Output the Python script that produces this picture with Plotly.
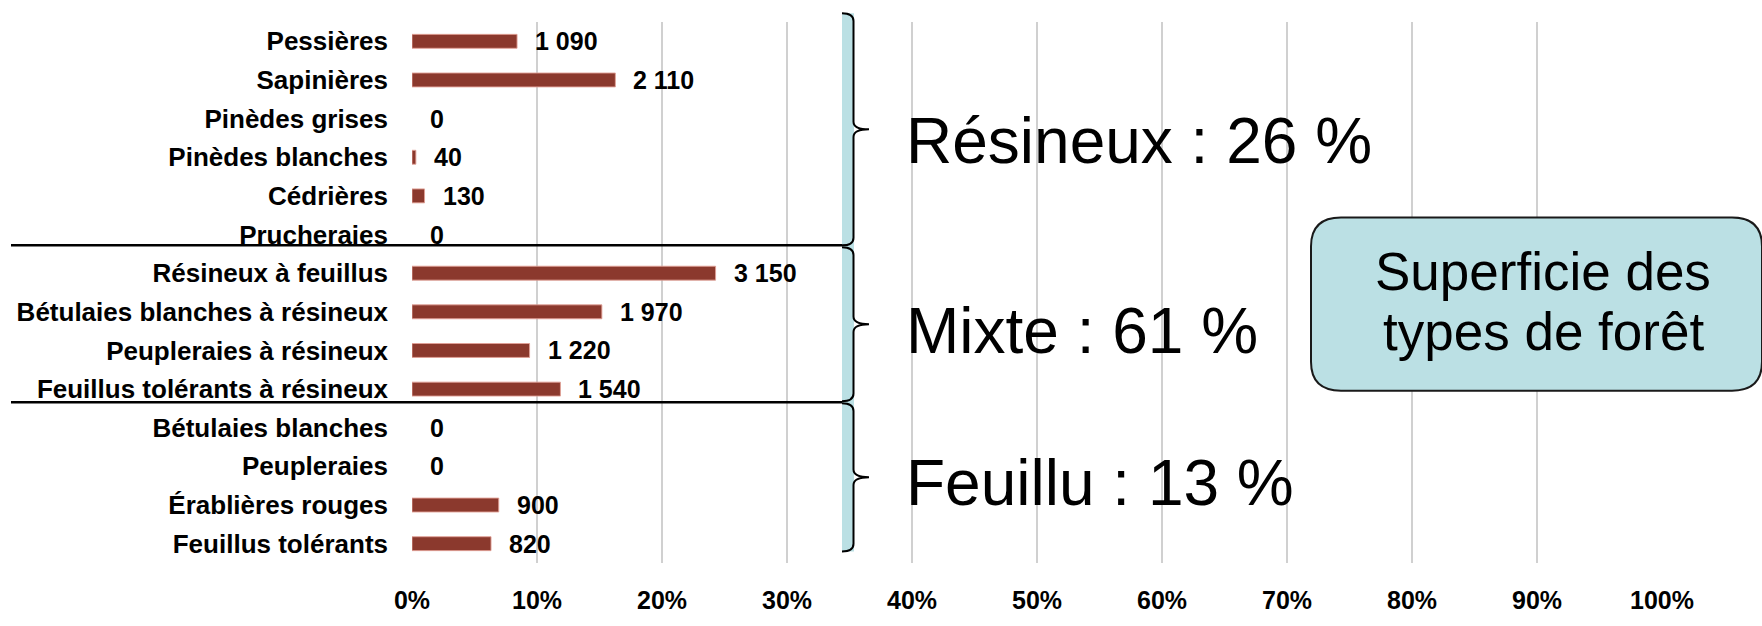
import plotly.graph_objects as go

# ---------------- data ----------------
categories = [
    "Pessières", "Sapinières", "Pinèdes grises", "Pinèdes blanches", "Cédrières", "Prucheraies",
    "Résineux à feuillus", "Bétulaies blanches à résineux", "Peupleraies à résineux",
    "Feuillus tolérants à résineux",
    "Bétulaies blanches", "Peupleraies", "Érablières rouges", "Feuillus tolérants",
]
values = [1090, 2110, 0, 40, 130, 0, 3150, 1970, 1220, 1540, 0, 0, 900, 820]
groups = ["Résineux"] * 6 + ["Mixte"] * 4 + ["Feuillu"] * 4
group_names = ["Résineux", "Mixte", "Feuillu"]
box_lines = ["Superficie des", "types de forêt"]
x_ticks = [i / 10 for i in range(11)]

total = sum(values)
shares = [v / total for v in values]
group_pct = {g: round(100 * sum(v for v, gg in zip(values, groups) if gg == g) / total) for g in group_names}


def fmt(v):
    return f"{v:,}".replace(",", " ")


# ---------------- layout geometry (pixels) ----------------
W, H = 1762, 626
PL, PR, PT, PB = 412, 1662, 22, 584


def px(x):
    return (x - PL) / (PR - PL)


def py(y):
    return (PB - y) / (PB - PT)


FONT = "Liberation Sans, Arial, sans-serif"
BAR = "#8B392D"
CYAN = "#BBE0E4"

fig = go.Figure()
fig.add_trace(go.Bar(
    x=shares, y=categories, orientation="h",
    marker=dict(color=BAR,
                line=dict(color="rgba(225,160,150,0.9)",
                          width=[1 if v > 0 else 0 for v in values])),
    width=0.36, hoverinfo="skip", showlegend=False,
))

annotations = []
for c, s, v in zip(categories, shares, values):
    annotations.append(dict(
        x=s, y=c, xref="x", yref="y", text=fmt(v), showarrow=False,
        xanchor="left", yanchor="middle", xshift=16,
        font=dict(family=FONT, size=25, color="black", weight="bold"),
    ))

# group labels
group_y = {"Résineux": 146, "Mixte": 343, "Feuillu": 501}
for g in group_names:
    annotations.append(dict(
        x=px(904), y=py(group_y[g]), xref="paper", yref="paper",
        text=f"{g} : {group_pct[g]} %", showarrow=False,
        xanchor="left", yanchor="middle",
        font=dict(family=FONT, size=64, color="black"),
    ))

# box text
for line, yy in zip(box_lines, [281, 343]):
    annotations.append(dict(
        x=px(1543), y=py(yy), xref="paper", yref="paper", text=line, showarrow=False,
        xanchor="center", yanchor="middle",
        font=dict(family=FONT, size=53, color="black"),
    ))

shapes = []
# separator lines
for yy in [254, 417]:
    shapes.append(dict(type="line", xref="paper", yref="paper",
                       x0=px(11), x1=px(846), y0=py(yy), y1=py(yy),
                       line=dict(color="black", width=2.5), layer="above"))
# cyan strip
shapes.append(dict(type="rect", xref="paper", yref="paper",
                   x0=px(842), x1=px(854), y0=py(572), y1=py(13),
                   fillcolor=CYAN, line=dict(width=0), layer="above"))


# braces
def brace(top, bottom, xl=842, xv=853.5, xt=869, r=8):
    mid = (top + bottom) / 2
    pts = [
        f"M {px(xl)},{py(top)}",
        f"Q {px(xv)},{py(top)} {px(xv)},{py(top + r)}",
        f"L {px(xv)},{py(mid - r)}",
        f"Q {px(xv)},{py(mid)} {px(xt)},{py(mid)}",
        f"Q {px(xv)},{py(mid)} {px(xv)},{py(mid + r)}",
        f"L {px(xv)},{py(bottom - r)}",
        f"Q {px(xv)},{py(bottom)} {px(xl)},{py(bottom)}",
    ]
    return " ".join(pts)


for t, b in [(13, 254), (256, 416), (418, 572)]:
    shapes.append(dict(type="path", xref="paper", yref="paper", path=brace(t, b),
                       line=dict(color="black", width=2), layer="above"))


# rounded box
def rrect(x0, y0, x1, y1, r):
    return " ".join([
        f"M {px(x0 + r)},{py(y0)}",
        f"L {px(x1 - r)},{py(y0)}",
        f"Q {px(x1)},{py(y0)} {px(x1)},{py(y0 + r)}",
        f"L {px(x1)},{py(y1 - r)}",
        f"Q {px(x1)},{py(y1)} {px(x1 - r)},{py(y1)}",
        f"L {px(x0 + r)},{py(y1)}",
        f"Q {px(x0)},{py(y1)} {px(x0)},{py(y1 - r)}",
        f"L {px(x0)},{py(y0 + r)}",
        f"Q {px(x0)},{py(y0)} {px(x0 + r)},{py(y0)}",
        "Z",
    ])


shapes.append(dict(type="path", xref="paper", yref="paper", path=rrect(1311, 225, 1762, 405, 30),
                   fillcolor=CYAN, line=dict(color="#1a1a1a", width=2), layer="above"))

fig.update_layout(
    width=W, height=H,
    margin=dict(l=PL, r=W - PR, t=PT, b=H - PB, pad=0),
    paper_bgcolor="white", plot_bgcolor="white",
    font=dict(family=FONT, color="black"),
    xaxis=dict(range=[0, 1], tickvals=x_ticks, tickformat=".0%",
               showgrid=True, gridcolor="#D0D0D0", gridwidth=2,
               zeroline=False, showline=False, ticks="",
               ticklabelstandoff=20,
               tickfont=dict(family=FONT, size=25, color="black", weight="bold")),
    yaxis=dict(range=[13.5, -0.5], type="category", showgrid=False, zeroline=False,
               showline=False, ticks="", ticklabelstandoff=23,
               tickfont=dict(family=FONT, size=26, color="black", weight="bold")),
    annotations=annotations,
    shapes=shapes,
    bargap=0.6,
)

fig.write_html(
    "out.html",
    config={"displayModeBar": False},
    post_script="document.documentElement.style.overflow='hidden';document.body.style.margin='0';document.body.style.overflow='hidden';",
)
